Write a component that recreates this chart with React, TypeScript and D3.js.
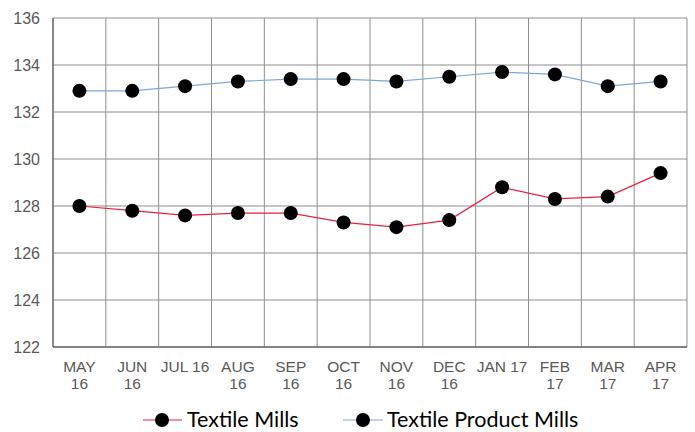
import React from "react";
import * as d3 from "d3";

const months: string[][] = [
  ["MAY", "16"], ["JUN", "16"], ["JUL 16"], ["AUG", "16"], ["SEP", "16"], ["OCT", "16"],
  ["NOV", "16"], ["DEC", "16"], ["JAN 17"], ["FEB", "17"], ["MAR", "17"], ["APR", "17"],
];
const textileMills = [128.0, 127.8, 127.6, 127.7, 127.7, 127.3, 127.1, 127.4, 128.8, 128.3, 128.4, 129.4];
const textileProductMills = [132.9, 132.9, 133.1, 133.3, 133.4, 133.4, 133.3, 133.5, 133.7, 133.6, 133.1, 133.3];
const yTicks = [122, 124, 126, 128, 130, 132, 134, 136];

const W = 695, H = 432;
const left = 53, right = 687, top = 18, bottom = 347;
const RED = "#e8213f", BLUE = "#7ea6d8";
const GRID = "#8e8e8e";
const TEXT = "#595959";

export default function App() {
  const x = d3.scaleBand<number>().domain(d3.range(months.length)).range([left, right]);
  const y = d3.scaleLinear().domain([122, 136]).range([bottom, top]);
  const cx = (i: number) => (x(i) as number) + x.bandwidth() / 2;
  const line = d3.line<number>().x((_, i) => cx(i)).y((d) => y(d));

  const series = [
    { name: "Textile Mills", values: textileMills, color: RED },
    { name: "Textile Product Mills", values: textileProductMills, color: BLUE },
  ];

  return (
    <svg width={W} height={H} style={{ position: "absolute", left: 0, top: 0, background: "#fff" }}>
      <rect x={0} y={0} width={W} height={H} fill="#fff" />
      {/* horizontal gridlines */}
      {yTicks.map((t) => (
        <line key={"h" + t} x1={left} x2={right} y1={y(t)} y2={y(t)} stroke={GRID} strokeWidth={1} />
      ))}
      {/* vertical gridlines */}
      {d3.range(months.length + 1).map((i) => {
        const xx = i < months.length ? (x(i) as number) : right;
        return <line key={"v" + i} x1={xx} x2={xx} y1={top} y2={bottom} stroke={GRID} strokeWidth={1} />;
      })}
      {/* axes */}
      <line x1={left} x2={left} y1={top} y2={bottom} stroke="#6e6e6e" strokeWidth={1.4} />
      <line x1={left} x2={right} y1={bottom} y2={bottom} stroke="#6e6e6e" strokeWidth={1.4} />

      {/* y tick labels */}
      {yTicks.map((t) => (
        <text key={"yl" + t} x={40} y={y(t)} dy="0.36em" textAnchor="end"
          fontFamily="Liberation Sans, Arial, sans-serif" fontSize={16} fill={TEXT}>
          {t}
        </text>
      ))}
      {/* x tick labels */}
      {months.map((m, i) => (
        <text key={"xl" + i} textAnchor="middle" fontFamily="Liberation Sans, Arial, sans-serif"
          fontSize={15.5} fill={TEXT}>
          {m.map((s, j) => (
            <tspan key={j} x={cx(i)} y={372 + j * 17}>{s}</tspan>
          ))}
        </text>
      ))}

      {/* series */}
      {series.map((s) => (
        <g key={s.name}>
          <path d={line(s.values) || ""} fill="none" stroke={s.color} strokeWidth={1.2} />
          {s.values.map((v, i) => (
            <circle key={i} cx={cx(i)} cy={y(v)} r={7} fill="#000" />
          ))}
        </g>
      ))}

      {/* legend */}
      <g>
        <line x1={143} x2={182} y1={420} y2={420} stroke={RED} strokeWidth={1.2} />
        <circle cx={162} cy={420} r={7} fill="#000" />
        <text x={187} y={427} fontFamily="Lato, sans-serif" fontSize={21.5} fill="#000">Textile Mills</text>
        <line x1={343} x2={383} y1={420} y2={420} stroke={BLUE} strokeWidth={1.2} />
        <circle cx={363} cy={420} r={7} fill="#000" />
        <text x={387} y={427} fontFamily="Lato, sans-serif" fontSize={21.5} fill="#000">Textile Product Mills</text>
      </g>
    </svg>
  );
}
